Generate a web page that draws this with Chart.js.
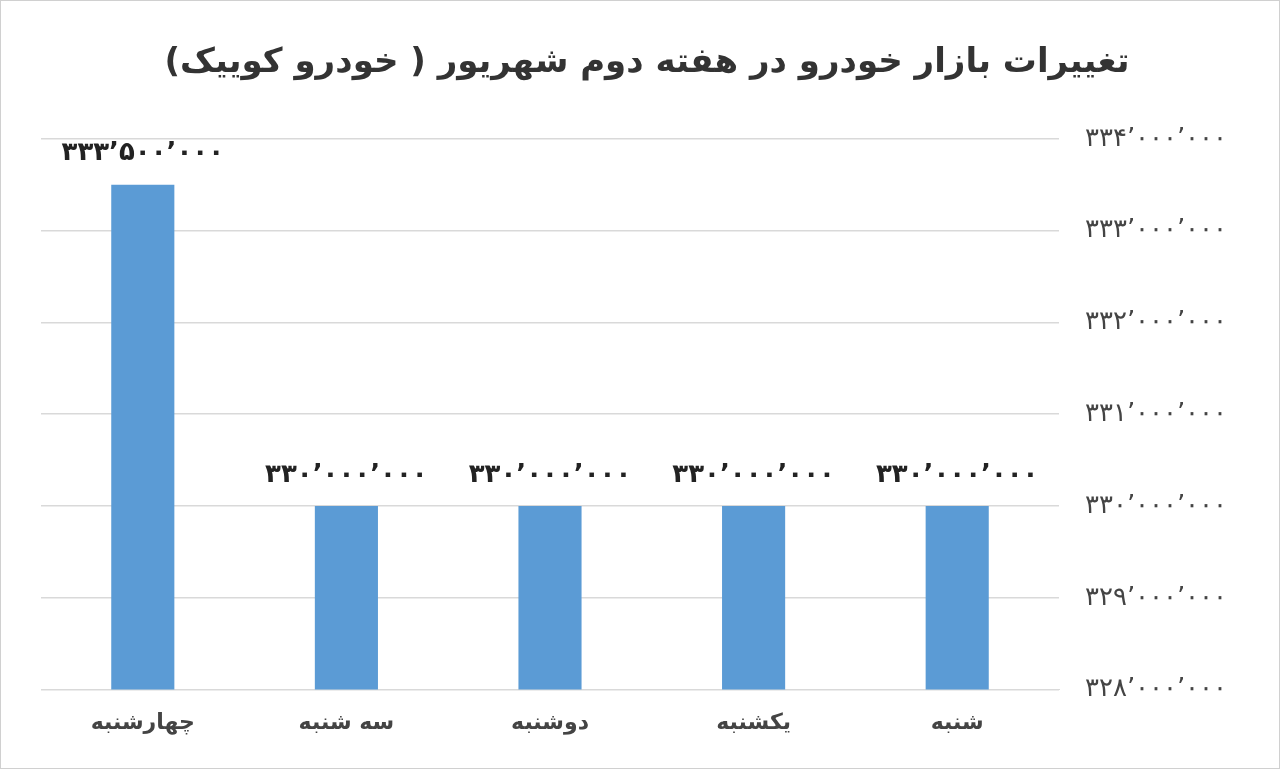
<!DOCTYPE html>
<html lang="fa">
<head>
<meta charset="UTF-8">
<title>تغییرات بازار خودرو</title>
<script src="https://cdn.jsdelivr.net/npm/chart.js"></script>
<style>
  html, body { margin: 0; padding: 0; background: #fff; }
  #wrap { position: absolute; left: 0; top: 0; width: 1278px; height: 767px; border: 1px solid #d0d0d0; }
</style>
</head>
<body>
<div id="wrap"><canvas id="grafico"></canvas></div>
<script>
// ================= DATOS =================
const categories = ["شنبه", "یکشنبه", "دوشنبه", "سه شنبه", "چهارشنبه"];
const prices = [330000000, 330000000, 330000000, 330000000, 333500000];
const yMin = 328000000;
const yMax = 334000000;
const yStep = 1000000;

const fa = v => v.toLocaleString("fa-IR");

// etiquetas encima de las barras
const barLabels = {
  id: "barLabels",
  afterDatasetsDraw(chart) {
    const ctx = chart.ctx;
    const meta = chart.getDatasetMeta(0);
    ctx.save();
    ctx.font = "bold 26px 'DejaVu Sans'";
    ctx.fillStyle = "#222";
    ctx.textAlign = "center";
    ctx.textBaseline = "bottom";
    meta.data.forEach((bar, i) => {
      ctx.fillText(fa(prices[i]), bar.x, bar.y - 18);
    });
    ctx.restore();
  }
};

new Chart(document.getElementById("grafico"), {
  type: "bar",
  data: {
    labels: categories,
    datasets: [{
      data: prices,
      backgroundColor: "#5b9bd5",
      barPercentage: 0.31,
      categoryPercentage: 1
    }]
  },
  options: {
    responsive: true,
    maintainAspectRatio: false,
    animation: false,
    layout: { padding: { left: 40, right: 26, top: 10, bottom: 20 } },
    plugins: {
      legend: { display: false },
      tooltip: { enabled: false },
      title: {
        display: true,
        text: "تغییرات بازار خودرو در هفته دوم شهریور ( خودرو کوییک)",
        color: "#333",
        font: { family: "DejaVu Sans", size: 34, weight: "bold" },
        padding: { top: 32, bottom: 55 }
      }
    },
    scales: {
      x: {
        reverse: true,
        grid: { display: false },
        border: { color: "#d9d9d9" },
        ticks: { color: "#444", font: { family: "DejaVu Sans", size: 22, weight: "bold" }, padding: 12 }
      },
      y: {
        position: "right",
        min: yMin,
        max: yMax,
        ticks: {
          stepSize: yStep,
          color: "#444",
          padding: 26,
          font: { family: "DejaVu Serif", size: 26 },
          callback: v => fa(v)
        },
        grid: { color: "#d9d9d9", lineWidth: 1.5, drawTicks: false },
        border: { display: false }
      }
    }
  },
  plugins: [barLabels]
});
</script>
</body>
</html>
